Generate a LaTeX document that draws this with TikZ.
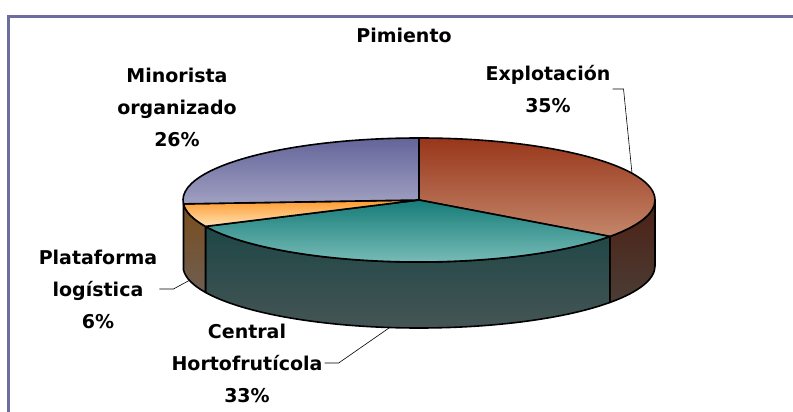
\documentclass[tikz,border=0pt]{standalone}
\usepackage{fontspec}
\setmainfont{DejaVu Sans}
\definecolor{framec}{HTML}{6E6E9E}
\definecolor{expA}{HTML}{98361A}
\definecolor{expB}{HTML}{C4866A}
\definecolor{expS}{HTML}{4E2014}
\definecolor{expT}{HTML}{4A3D35}
\definecolor{cenA}{HTML}{167C78}
\definecolor{cenB}{HTML}{84C4C0}
\definecolor{cenS}{HTML}{144242}
\definecolor{cenT}{HTML}{485656}
\definecolor{plaA}{HTML}{FF9A2E}
\definecolor{plaB}{HTML}{FFE2B4}
\definecolor{plaS}{HTML}{7A4C1A}
\definecolor{plaT}{HTML}{6E5E52}
\definecolor{minA}{HTML}{64649A}
\definecolor{minB}{HTML}{A0A0C2}
\begin{document}
\begin{tikzpicture}[x=1pt,y=1pt,
    lbl/.style={font=\bfseries\fontsize{19}{32}\selectfont, align=center, inner sep=2pt},
    rim/.style={draw=black, line width=1.6pt, line join=round},
    lead/.style={draw=black, line width=0.6pt}]
    \useasboundingbox (0,0) rectangle (793,412);
    \fill[white] (0,0) rectangle (793,412);
    \draw[framec, line width=3pt] (8,-5) |- (800,395);

    \coordinate (c) at (419,212);

    % sides
    \shadedraw[rim, top color=expS, bottom color=expT] (c) ++(-36:236 and 62) arc[start angle=-36, end angle=0, x radius=236, y radius=62] -- ++(0,-66) arc[start angle=0, end angle=-36, x radius=236, y radius=62] -- cycle;
    \shadedraw[rim, top color=cenS, bottom color=cenT] (c) ++(-154.8:236 and 62) arc[start angle=-154.8, end angle=-36, x radius=236, y radius=62] -- ++(0,-66) arc[start angle=-36, end angle=-154.8, x radius=236, y radius=62] -- cycle;
    \shadedraw[rim, top color=plaS, bottom color=plaT] (c) ++(-176.4:236 and 62) arc[start angle=-176.4, end angle=-154.8, x radius=236, y radius=62] -- ++(0,-66) arc[start angle=-154.8, end angle=-176.4, x radius=236, y radius=62] -- cycle;

    % top
    \shadedraw[rim, top color=expA, bottom color=expB] (c) -- ++(90:236 and 62) arc[start angle=90, end angle=-36, x radius=236, y radius=62] -- cycle;
    \shadedraw[rim, top color=cenA, bottom color=cenB] (c) -- ++(-36:236 and 62) arc[start angle=-36, end angle=-154.8, x radius=236, y radius=62] -- cycle;
    \shadedraw[rim, top color=plaA, bottom color=plaB] (c) -- ++(-154.8:236 and 62) arc[start angle=-154.8, end angle=-176.4, x radius=236, y radius=62] -- cycle;
    \shadedraw[rim, top color=minA, bottom color=minB] (c) -- ++(-176.4:236 and 62) arc[start angle=-176.4, end angle=-270, x radius=236, y radius=62] -- cycle;

    % labels
    \node[lbl] (title) at (404,377) {Pimiento};
    \node[lbl] (ex) at (548,323) {Explotación\\35\%};
    \node[lbl] (mi) at (177,305) {Minorista\\organizado\\26\%};
    \node[lbl] (pl) at (98,123) {Plataforma\\logística\\6\%};
    \node[lbl] (ce) at (247,49) {Central\\Hortofrutícola\\33\%};

    \path (c) ++(25.5:236 and 62) coordinate (ep);
    \coordinate (pp) at (190,132);
    \coordinate (cp) at (389,84);

    \draw[lead] (ex.east) -- ++(11,0) -- (ep);
    \draw[lead] (pl.east) -- ++(14,0) -- (pp);
    \draw[lead] (ce.east) -- ++(14,0) -- (cp);
\end{tikzpicture}
\end{document}
